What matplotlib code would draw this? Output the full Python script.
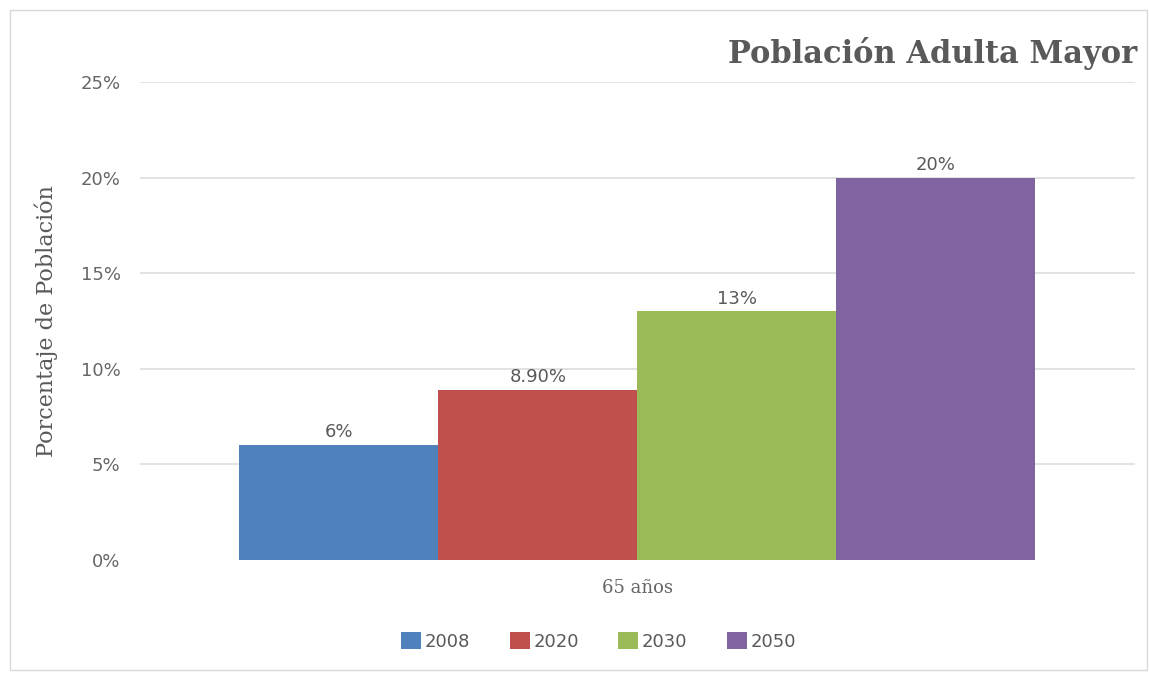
import numpy as np
import matplotlib.pyplot as plt
from matplotlib.patches import Rectangle

# datos
categoria = '65 años'
anios = ['2008', '2020', '2030', '2050']
porcentajes = [6.0, 8.9, 13.0, 20.0]
etiquetas = ['6%', '8.90%', '13%', '20%']
colores = ['#4F81BD', '#C0504D', '#9BBB59', '#8064A2']

gris = '#595959'

fig = plt.figure(figsize=(11.49, 6.77), dpi=100)
ax = fig.add_axes([0.1218, 0.1728, 0.866, 0.7061])

# marco del gráfico
fig.patches.append(Rectangle((10 / 1149, 7 / 677), 1137 / 1149, 660 / 677,
                             transform=fig.transFigure, fill=False,
                             edgecolor='#D9D9D9', linewidth=1))

ancho = 0.2
offsets = (np.arange(len(anios)) - 1.5) * ancho
for i, anio in enumerate(anios):
    ax.bar(offsets[i], porcentajes[i], width=ancho, color=colores[i],
           label=anio, zorder=3)
    ax.text(offsets[i], porcentajes[i] + 0.2, etiquetas[i], ha='center',
            va='bottom', fontsize=13, color=gris, family='DejaVu Sans')

ax.set_xlim(-0.5, 0.5)
ax.set_ylim(0, 25)
ax.set_yticks(range(0, 26, 5))
ax.set_yticklabels([f'{v}%' for v in range(0, 26, 5)])
ax.set_xticks([0])
ax.set_xticklabels([categoria], family='DejaVu Serif', fontsize=14)
ax.tick_params(length=0, labelsize=13, labelcolor='#666666')
ax.tick_params(axis='y', pad=14)
ax.tick_params(axis='x', pad=14)
for s in ax.spines.values():
    s.set_visible(False)
ax.grid(axis='y', color='#DDDDDD', linewidth=1.2, zorder=0)
# sin línea en 0%
ax.get_ygridlines()[0].set_visible(False)

ax.set_ylabel('Porcentaje de Población', fontsize=16, color=gris,
              family='DejaVu Serif', labelpad=16)

fig.text(1137 / 1149, 1 - 53 / 677, 'Población Adulta Mayor', ha='right',
         va='center', fontsize=22, fontweight='bold', color=gris,
         family='DejaVu Serif')

ax.legend(loc='center', bbox_to_anchor=(0.461, -0.17), ncol=4, frameon=False,
          fontsize=13, labelcolor=gris, handlelength=1.1, handleheight=1.1,
          handletextpad=0.2, columnspacing=2.2)

fig.savefig('out.png', dpi=100)
